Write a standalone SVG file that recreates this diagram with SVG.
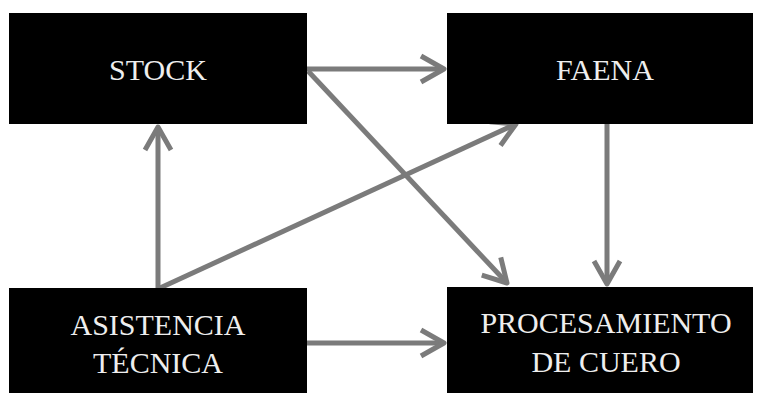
<svg xmlns="http://www.w3.org/2000/svg" width="763" height="393" viewBox="0 0 763 393">
<style>
.box{fill:#000;}
.lbl{font-family:"Liberation Serif","Times New Roman",serif;font-size:30px;fill:#eeeeee;text-anchor:middle;}
.con{stroke:#7b7b7b;stroke-width:5;fill:none;marker-end:url(#arr);}
</style>
<defs>
<marker id="arr" markerUnits="userSpaceOnUse" viewBox="-30 -16 34 32" refX="0" refY="0" markerWidth="34" markerHeight="32" orient="auto">
<path d="M-23,-13 L0,0 L-23,13" fill="none" stroke="#7b7b7b" stroke-width="5" stroke-linejoin="round" stroke-linecap="butt"/>
</marker>
</defs>
<rect width="763" height="393" fill="#fff"/>
<g id="connectors">
<line class="con" x1="307" y1="69" x2="444" y2="69"/>
<line class="con" x1="308" y1="71" x2="507" y2="283"/>
<line class="con" x1="160" y1="288" x2="516" y2="124"/>
<line class="con" x1="158" y1="288" x2="158" y2="127"/>
<line class="con" x1="607" y1="124" x2="607" y2="284"/>
<line class="con" x1="307" y1="343" x2="444" y2="343"/>
</g>
<g id="stock">
<rect class="box" x="9" y="13" width="298" height="111"/>
<text class="lbl" x="158" y="80">STOCK</text>
</g>
<g id="faena">
<rect class="box" x="447" y="13" width="306" height="111"/>
<text class="lbl" x="605" y="80">FAENA</text>
</g>
<g id="asistencia">
<rect class="box" x="9" y="288" width="298" height="105"/>
<text class="lbl" x="158" y="335">ASISTENCIA</text>
<text class="lbl" x="158" y="373">TÉCNICA</text>
</g>
<g id="procesamiento">
<rect class="box" x="447" y="287" width="306" height="106"/>
<text class="lbl" x="606" y="333">PROCESAMIENTO</text>
<text class="lbl" x="606" y="372">DE CUERO</text>
</g>
</svg>
